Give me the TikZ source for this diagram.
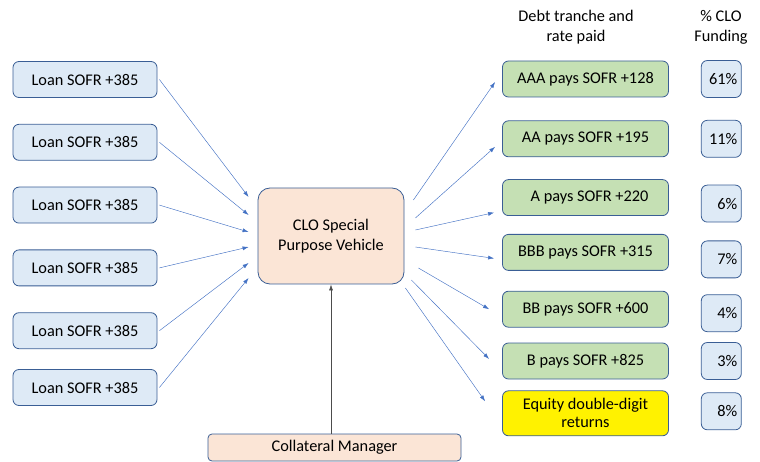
\documentclass[tikz,border=0pt]{standalone}
\usepackage{fontspec}
\setmainfont{Carlito}
\usetikzlibrary{positioning,arrows.meta}
\definecolor{loanfill}{HTML}{DEEAF6}
\definecolor{boxline}{HTML}{3A5E95}
\definecolor{tranchefill}{HTML}{C5E0B4}
\definecolor{spvfill}{HTML}{FBE5D6}
\definecolor{flowblue}{HTML}{4472C4}

\tikzset{
  loan/.style={draw=boxline, fill=loanfill, rounded corners=6pt, line width=0.8pt,
    minimum width=144pt, minimum height=36pt, inner sep=2pt},
  tranche/.style={draw=boxline, fill=tranchefill, rounded corners=6pt, line width=0.8pt,
    minimum width=166pt, minimum height=36pt, inner sep=2pt, align=center},
  pct/.style={draw=boxline, fill=loanfill, rounded corners=6pt, line width=0.8pt,
    text width=32pt, inner xsep=4pt, minimum height=37pt, align=right},
  spvbox/.style={draw=boxline, fill=spvfill, rounded corners=12pt, line width=0.8pt,
    minimum width=146pt, minimum height=96pt, align=center},
  flow/.style={-{Latex[length=6pt,width=4pt]}, flowblue, line width=0.45pt},
  mgr/.style={-{Latex[length=6pt,width=4pt]}, black!70, line width=0.6pt}
}

\begin{document}
\begin{tikzpicture}[x=1pt, y=-1pt, font=\fontsize{16.3}{20}\selectfont]
  \useasboundingbox (0,0) rectangle (760,462);

  \node[loan] (loan1) at (85,79.5) {Loan SOFR +385};
  \node[loan, below=26pt of loan1] (loan2) {Loan SOFR +385};
  \node[loan, below=26pt of loan2] (loan3) {Loan SOFR +385};
  \node[loan, below=26pt of loan3] (loan4) {Loan SOFR +385};
  \node[loan, below=26pt of loan4] (loan5) {Loan SOFR +385};
  \node[loan, below=20pt of loan5] (loan6) {Loan SOFR +385};

  \node[spvbox] (spv) at (331,236) {CLO Special\\Purpose Vehicle};
  \node[draw=boxline, fill=spvfill, rounded corners=4pt, line width=0.8pt,
    minimum width=253pt, minimum height=27pt, inner sep=1pt] (cm) at (334.5,447.5) {Collateral Manager};

  \node[align=center] (hdrdebt) at (576,27) {Debt tranche and\\rate paid};
  \node[align=center] (hdrpct) at (721,27) {\% CLO\\Funding};

  \node[tranche] (aaa) at (585.5,79) {AAA pays SOFR +128};
  \node[tranche, below=23pt of aaa] (aa) {AA pays SOFR +195};
  \node[tranche, below=22pt of aa] (a) {\hspace{8pt}A pays SOFR +220};
  \node[tranche, below=18pt of a] (bbb) {BBB pays SOFR +315};
  \node[tranche, below=20pt of bbb] (bb) {BB pays SOFR +600};
  \node[tranche, below=15pt of bb] (b) {B pays SOFR +825};
  \node[tranche, fill=yellow, minimum height=45pt, below=11pt of b, font=\fontsize{16.3}{18}\selectfont] (equity) {Equity double-digit\\returns};

  \node[pct, right=32pt of aaa] (paaa) {61\%};
  \node[pct, right=32pt of aa] (paa) {11\%};
  \node[pct, right=32pt of a, yshift=-6pt] (pa) {6\%};
  \node[pct, right=32pt of bbb, yshift=-7pt] (pbbb) {7\%};
  \node[pct, right=32pt of bb, yshift=-4pt] (pbb) {4\%};
  \node[pct, right=32pt of b] (pb) {3\%};
  \node[pct, right=32pt of equity, yshift=2pt] (peq) {8\%};

  \draw[flow] ([xshift=2pt]loan1.east) -- ([shift={(-9,-39)}]spv.west);
  \draw[flow] ([xshift=2pt]loan2.east) -- ([shift={(-9,-21)}]spv.west);
  \draw[flow] ([xshift=2pt]loan3.east) -- ([shift={(-9,-4)}]spv.west);
  \draw[flow] ([xshift=2pt]loan4.east) -- ([shift={(-9,11)}]spv.west);
  \draw[flow] ([xshift=2pt]loan5.east) -- ([shift={(-9,27)}]spv.west);
  \draw[flow] ([xshift=2pt]loan6.east) -- ([shift={(-9,42)}]spv.west);

  \draw[flow] ([shift={(9,-36)}]spv.east) -- ([shift={(-7,3)}]aaa.west);
  \draw[flow] ([shift={(11,-18)}]spv.east) -- ([shift={(-7,8)}]aa.west);
  \draw[flow] ([shift={(11,-6)}]spv.east) -- ([shift={(-8,15)}]a.west);
  \draw[flow] ([shift={(11,11)}]spv.east) -- ([shift={(-8,6)}]bbb.west);
  \draw[flow] ([shift={(14,32)}]spv.east) -- ([shift={(-13,0)}]bb.west);
  \draw[flow] ([shift={(7,44)}]spv.east) -- ([shift={(-13,-2)}]b.west);
  \draw[flow] ([shift={(1,52)}]spv.east) -- ([shift={(-17,-12)}]equity.west);

  \draw[mgr] (cm.north -| spv.south) -- (spv.south);
\end{tikzpicture}
\end{document}
